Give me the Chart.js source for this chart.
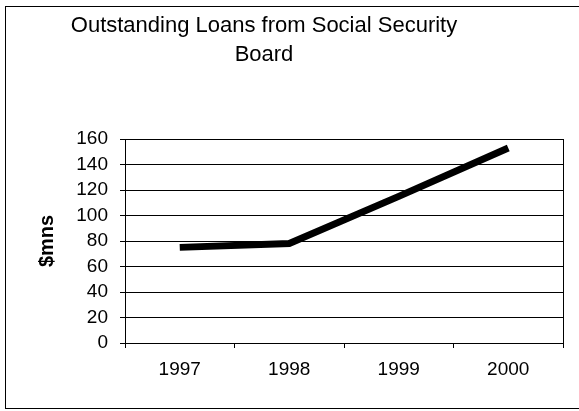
<!DOCTYPE html>
<html>
<head>
<meta charset="utf-8">
<script src="https://cdn.jsdelivr.net/npm/chart.js@4"></script>
<style>
  html, body { margin: 0; padding: 0; background: #fff; }
  #wrap { width: 579px; height: 411px; }
</style>
</head>
<body>
<div id="wrap"><canvas id="loansChart" width="579" height="411"></canvas></div>
<script>
const years = ['1997', '1998', '1999', '2000'];
const loans = [75, 78, 115, 153];
const titleLines = ['Outstanding Loans from Social Security', 'Board'];

const FONT = '"Liberation Sans", Arial, sans-serif';

// marco exterior y titulo (centrado un poco a la izquierda como en el original)
const framePlugin = {
    id: 'frame',
    beforeDraw(chart) {
        const c = chart.ctx;
        c.save();
        c.fillStyle = '#fff';
        c.fillRect(0, 0, chart.width, chart.height);
        c.strokeStyle = '#000';
        c.lineWidth = 1;
        c.strokeRect(5.5, 6.5, 620, 402);
        c.restore();
    },
    afterDraw(chart) {
        const c = chart.ctx;
        c.save();
        c.fillStyle = '#000';
        c.font = '22px ' + FONT;
        c.textAlign = 'center';
        c.textBaseline = 'middle';
        titleLines.forEach((t, i) => c.fillText(t, 264, 26 + i * 29));
        c.restore();
    }
};

new Chart(document.getElementById('loansChart'), {
    type: 'line',
    data: {
        labels: years,
        datasets: [{
            data: loans,
            borderColor: '#000',
            borderWidth: 7,
            borderCapStyle: 'butt',
            pointRadius: 0,
            tension: 0
        }]
    },
    options: {
        responsive: false,
        animation: false,
        layout: { padding: { left: 5, right: 16, top: 139, bottom: 0 } },
        plugins: { legend: { display: false }, tooltip: { enabled: false } },
        scales: {
            x: {
                offset: true,
                afterFit: s => { s.height = 68; },
                grid: { drawOnChartArea: false, color: '#000', tickLength: 5, offset: true },
                border: { color: '#000', width: 1 },
                ticks: { color: '#000', font: { family: FONT, size: 19 }, padding: 10, maxRotation: 0, autoSkip: false }
            },
            y: {
                min: 0,
                max: 160,
                afterFit: s => { s.width = 120; },
                ticks: { stepSize: 20, autoSkip: false, color: '#000', font: { family: FONT, size: 19 }, padding: 12 },
                grid: { color: '#000', lineWidth: 1, tickLength: 5 },
                border: { color: '#000', width: 1 },
                title: { display: true, text: '$mns', color: '#000', font: { family: FONT, size: 20, weight: 'bold' }, padding: { top: 30 } }
            },
            y2: {
                position: 'right',
                min: 0,
                max: 160,
                afterFit: s => { s.width = 0; },
                ticks: { display: false },
                grid: { drawOnChartArea: false, drawTicks: false },
                border: { color: '#000', width: 1 }
            }
        }
    },
    plugins: [framePlugin]
});
</script>
</body>
</html>
